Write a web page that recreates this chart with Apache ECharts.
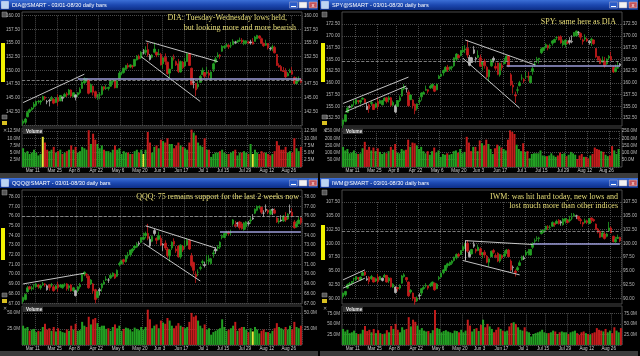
<!DOCTYPE html>
<html><head><meta charset="utf-8">
<script src="https://cdn.jsdelivr.net/npm/echarts@6/dist/echarts.min.js"></script>
<style>html,body{margin:0;padding:0;background:#000}#c{width:640px;height:356px}</style>
</head><body><div id="c"></div>
<script>
// ---- categories ----
const holidays = ['2013-03-29','2013-05-27','2013-07-04'];
const monthNames = ['Jan','Feb','Mar','Apr','May','Jun','Jul','Aug','Sep'];
const days = [];
for (let d = new Date(Date.UTC(2013,2,1)); d <= new Date(Date.UTC(2013,7,30)); d.setUTCDate(d.getUTCDate()+1)) {
  const wd = d.getUTCDay(); if (wd === 0 || wd === 6) continue;
  if (holidays.includes(d.toISOString().slice(0,10))) continue;
  days.push(monthNames[d.getUTCMonth()] + ' ' + d.getUTCDate());
}
const tickLabels = ['Mar 11','Mar 25','Apr 8','Apr 22','May 6','May 20','Jun 3','Jun 17','Jul 1','Jul 15','Jul 29','Aug 12','Aug 26'];

// ---- data: [open, close, low, high] ----
const diaOHLC = [[140.3,140.7,139.9,141.0],[140.5,141.1,140.1,141.3],[141.5,142.3,141.4,142.6],[142.4,142.8,142.2,143.0],[142.8,143.1,142.6,143.3],[143.3,143.8,142.9,144.2],[143.6,144.3,143.4,144.4],[144.3,144.3,143.9,144.6],[144.2,144.4,143.7,144.6],[144.6,145.2,144.4,145.4],
[145.1,144.9,144.5,145.3],[144.2,144.3,143.8,144.6],[144.5,144.4,143.4,144.8],[144.6,144.9,144.4,145.3],[144.7,144.0,143.8,144.9],[144.1,144.9,144.0,145.1],[145.0,144.3,143.5,145.6],[144.4,145.4,144.4,145.5],[144.9,145.1,144.3,145.2],[145.2,145.6,145.1,145.9],
[145.7,145.5,145.1,146.0],[145.6,146.4,145.4,146.6],[146.4,145.3,145.1,146.5],[145.2,145.9,145.1,146.0],[145.1,145.5,144.5,145.6],[145.5,145.9,145.1,146.0],[145.9,146.5,145.6,146.9],[146.7,147.8,146.6,148.0],[147.7,148.5,147.5,148.7],[148.3,148.5,147.8,148.6],
[148.3,145.8,145.6,148.4],[146.0,147.4,146.0,147.6],[147.1,146.0,145.4,147.2],[146.1,145.2,144.8,146.3],[145.3,145.3,144.6,145.7],[145.5,145.5,144.7,146.0],[145.6,147.0,145.4,147.2],[147.0,146.6,146.3,147.1],[146.7,146.8,146.4,147.4],[146.7,146.9,146.3,147.0],
[147.1,148.0,147.0,148.3],[147.9,148.2,147.5,148.3],[148.1,146.8,146.7,148.1],[146.8,148.1,146.8,148.2],[148.5,149.5,148.4,149.9],[149.5,149.5,149.1,149.8],[149.6,150.4,149.4,150.5],[150.2,150.9,150.0,151.0],[150.9,150.6,150.3,151.3],[150.6,151.0,150.4,151.1],
[150.8,150.7,150.3,151.0],[150.8,152.0,150.7,152.1],[151.9,152.6,151.8,152.8],[152.6,152.1,152.0,152.9],[152.3,153.3,152.1,153.5],[153.2,153.2,152.9,153.9],[153.3,153.7,152.8,154.4],[153.8,152.9,152.5,155.1],[152.0,152.7,151.8,153.0],[152.4,152.8,152.2,153.0],
[153.3,153.9,153.1,155.1],[153.3,152.8,152.4,153.4],[152.9,153.0,152.7,153.9],[152.9,151.0,150.9,153.2],[151.2,152.3,150.3,152.4],[152.4,151.6,151.0,153.1],[151.5,149.4,149.2,151.6],[149.5,150.2,148.5,150.3],[150.3,152.3,150.2,152.5],[152.3,152.2,151.8,152.9],
[151.6,151.0,150.8,151.8],[151.2,149.8,149.5,152.1],[149.7,151.6,149.6,151.8],[151.5,150.5,150.2,151.7],[150.8,151.6,150.6,152.3],[151.6,153.0,151.6,153.2],[153.1,150.9,150.8,153.2],[150.4,147.4,147.3,150.5],[147.9,147.8,146.7,148.5],[147.6,146.4,145.3,147.7],
[147.0,147.4,146.6,148.0],[147.8,148.9,147.8,149.2],[149.2,150.0,149.2,150.5],[149.6,148.9,148.6,149.7],[149.5,149.6,149.3,150.6],[149.5,149.1,148.6,150.0],[148.4,149.7,148.1,149.8],[150.2,151.2,149.7,151.4],[151.5,152.1,151.3,152.5],[152.5,152.8,152.3,153.3],
[152.8,152.7,152.1,153.0],[153.5,154.4,153.4,154.6],[154.2,154.4,153.9,154.6],[154.6,154.6,154.2,155.0],[154.6,154.3,153.9,154.8],[154.5,154.5,154.1,155.2],[154.7,155.3,154.7,155.7],[155.1,155.2,154.8,155.4],[155.2,155.3,155.0,155.6],[155.4,155.5,155.2,156.0],
[155.5,155.2,154.9,155.9],[154.9,155.4,154.6,155.6],[155.0,155.4,154.7,155.5],[155.2,155.0,154.8,155.4],[155.2,155.0,154.7,155.6],[155.2,154.8,154.7,155.9],[155.3,156.1,155.3,156.3],[155.8,156.4,155.7,156.5],[156.3,155.9,155.7,156.4],[155.8,155.0,154.8,156.0],
[154.9,154.5,154.3,155.1],[154.6,154.8,154.5,155.6],[154.9,154.1,153.8,155.0],[153.9,154.0,153.6,154.3],[154.1,154.3,153.5,154.7],[154.2,153.2,153.1,154.5],[152.9,150.9,150.8,153.0],[150.9,150.6,150.5,151.3],[150.7,149.9,149.9,151.0],[149.9,149.8,149.7,150.6],
[149.8,148.8,148.6,150.4],[149.0,149.4,148.9,149.7],[149.6,149.9,149.5,150.3],[149.8,149.3,149.2,150.6],[148.7,147.6,147.5,148.9],[147.6,148.0,147.4,148.8],[148.1,148.2,147.9,148.9],[148.3,147.81,147.6,148.6]];

const spyOHLC = [[151.1,152.1,150.4,152.2],[151.8,153.2,151.6,153.3],[153.7,154.6,153.6,155.0],[154.9,154.8,154.6,155.2],[154.9,155.3,154.6,155.4],[155.9,155.9,155.1,156.3],[155.5,156.4,155.4,156.5],[156.2,156.0,155.5,156.2],[155.9,156.2,155.4,156.4],[156.5,156.7,156.4,156.9],
[156.5,155.8,155.6,156.7],[154.3,155.0,154.2,155.7],[155.3,154.5,153.6,155.6],[155.6,155.8,155.1,156.2],[155.4,154.3,154.2,155.5],[154.8,155.6,154.6,155.8],[156.0,155.0,154.3,156.9],[155.6,156.2,155.6,156.5],[155.3,156.2,155.2,156.3],[156.2,156.7,156.1,156.9],
[156.8,156.0,155.6,157.0],[156.4,156.8,155.8,157.2],[156.8,155.2,154.9,157.0],[155.2,155.8,155.1,156.2],[153.8,155.1,153.5,155.4],[155.0,156.2,154.9,156.3],[156.2,156.8,155.9,157.3],[157.2,158.7,157.0,158.9],[158.7,159.2,158.4,159.7],[158.7,158.8,157.9,159.0],
[158.0,155.1,154.9,158.5],[156.4,157.4,156.3,157.5],[156.3,155.1,154.5,156.5],[155.4,154.1,153.3,155.6],[154.5,155.5,154.1,155.6],[156.0,156.2,155.3,156.9],[157.0,157.8,156.2,158.0],[157.6,157.9,157.5,158.2],[158.4,158.6,158.3,159.4],[158.5,158.2,157.7,158.6],
[158.9,159.3,158.7,159.6],[159.1,159.7,158.7,159.7],[159.3,158.2,158.0,159.4],[158.5,159.7,158.4,159.8],[160.9,161.4,160.8,161.7],[161.4,161.8,161.2,162.0],[162.1,162.6,161.5,162.8],[162.5,163.3,162.3,163.5],[163.3,162.8,162.3,163.8],[162.9,163.4,162.5,163.4],
[163.2,163.4,162.6,163.6],[163.6,165.3,163.4,165.4],[165.0,166.1,164.6,166.3],[165.8,165.3,165.2,166.1],[165.8,166.9,165.6,166.9],[166.6,166.9,166.4,167.8],[167.0,167.2,166.3,168.0],[167.3,165.9,165.3,169.1],[163.7,165.4,163.5,165.9],[164.3,165.3,164.3,165.5],
[167.0,166.3,166.1,167.8],[165.1,165.2,164.3,165.5],[165.4,165.8,165.2,166.9],[165.3,163.5,163.4,166.0],[163.9,164.4,162.6,164.5],[164.6,163.6,163.0,165.1],[163.3,161.3,161.0,163.6],[161.3,162.7,160.3,162.8],[163.6,164.8,163.4,165.0],[165.2,164.8,164.3,165.6],
[163.5,163.1,162.6,164.3],[164.2,161.8,161.6,164.3],[161.7,164.1,161.3,164.3],[163.7,163.2,162.6,164.3],[164.1,164.4,163.9,165.3],[164.6,165.7,164.6,165.8],[165.7,163.5,163.3,165.8],[161.7,159.6,159.3,162.1],[159.5,159.1,157.7,160.4],[157.4,157.2,155.7,158.1],
[158.4,158.5,157.7,159.2],[159.4,160.0,159.2,160.4],[161.0,161.0,160.5,161.8],[160.7,160.4,159.9,161.0],[161.3,161.3,160.8,162.4],[161.3,161.2,160.3,162.3],[160.0,161.4,159.9,161.5],[162.4,163.0,161.7,163.5],[163.8,164.0,163.4,164.5],[164.8,165.0,164.2,165.5],
[165.0,165.2,164.1,165.3],[166.4,167.2,166.1,167.5],[166.9,167.5,166.7,167.5],[167.6,168.1,167.3,168.4],[167.9,167.4,166.9,168.1],[167.8,167.9,167.2,168.3],[168.4,168.9,167.9,169.1],[168.6,169.2,168.5,169.4],[169.6,169.6,169.1,169.9],[169.8,169.1,169.0,170.0],
[169.8,168.5,168.3,170.1],[168.1,168.9,167.7,169.2],[168.1,169.1,167.5,169.2],[168.6,168.4,168.2,169.0],[169.0,168.6,168.1,169.7],[168.8,168.7,168.4,170.1],[169.9,170.7,169.9,170.8],[170.0,171.0,169.8,171.1],[170.7,170.7,170.1,171.0],[170.5,169.7,169.1,170.7],
[169.1,168.8,168.1,169.4],[169.3,169.6,168.9,170.3],[169.3,168.9,168.7,169.6],[168.5,168.8,168.1,169.1],[169.0,169.3,167.8,169.6],[169.1,168.3,168.1,169.2],[167.3,165.5,165.3,167.4],[165.6,164.8,164.7,165.7],[165.1,164.1,164.0,165.7],[164.4,164.8,164.3,165.6],
[164.6,163.6,163.2,165.5],[164.0,165.0,163.8,165.2],[165.3,165.6,164.9,165.9],[165.6,164.8,164.8,166.6],[163.3,162.3,162.1,163.6],[162.4,163.0,162.2,163.9],[163.1,163.3,163.0,164.6],[164.0,163.65,163.4,164.2]];

const qqqOHLC = [[67.2,67.6,67.0,67.7],[67.4,67.9,67.3,68.0],[68.2,68.6,68.1,68.8],[68.7,68.5,68.4,68.8],[68.5,68.6,68.3,68.8],[68.8,68.8,68.4,69.0],[68.7,69.0,68.6,69.1],[68.9,68.7,68.5,69.0],[68.6,68.8,68.4,68.9],[68.9,69.0,68.8,69.2],
[69.0,68.9,68.7,69.1],[68.4,68.8,68.3,68.9],[68.9,68.6,68.3,69.0],[68.9,68.9,68.7,69.1],[68.7,68.3,68.2,68.9],[68.5,68.8,68.4,68.9],[68.9,68.6,68.2,69.2],[68.7,68.9,68.6,69.0],[68.6,68.9,68.5,69.0],[68.9,68.9,68.7,69.1],
[69.0,68.5,68.3,69.1],[68.6,68.8,68.3,68.9],[68.9,68.3,68.2,69.0],[68.3,68.6,68.2,68.7],[67.8,68.3,67.7,68.4],[68.3,68.7,68.1,68.8],[68.7,68.9,68.5,69.1],[69.3,70.0,69.2,70.1],[70.0,70.2,69.8,70.3],[70.0,69.9,69.6,70.1],
[69.8,68.6,68.5,69.9],[69.0,69.4,68.9,69.5],[69.0,68.3,68.0,69.1],[68.4,67.4,67.0,68.5],[67.6,68.2,67.5,68.3],[68.4,68.3,67.8,68.6],[68.6,69.0,68.2,69.1],[69.0,69.2,68.9,69.4],[69.4,69.5,69.3,69.8],[69.4,69.4,69.1,69.6],
[69.6,69.9,69.5,70.1],[69.8,70.1,69.7,70.2],[70.0,69.6,69.5,70.1],[69.8,70.4,69.7,70.5],[71.0,71.1,70.8,71.3],[71.1,71.4,71.0,71.5],[71.5,71.3,71.0,71.6],[71.3,71.9,71.2,72.0],[71.9,72.0,71.6,72.3],[72.0,72.5,71.8,72.5],
[72.4,72.6,72.2,72.7],[72.7,72.9,72.5,73.0],[72.8,73.1,72.7,73.3],[73.2,73.1,72.9,73.4],[73.3,73.8,73.2,73.8],[73.6,73.8,73.5,74.3],[74.0,74.2,73.7,74.4],[74.2,73.7,73.5,75.2],[72.9,73.6,72.8,73.9],[73.4,73.9,73.3,74.0],
[74.5,74.2,74.0,74.7],[73.7,73.5,73.1,73.8],[73.6,74.0,73.5,74.4],[73.7,73.0,72.9,74.0],[73.1,73.0,72.4,73.2],[73.2,72.7,72.5,73.5],[72.6,71.9,71.7,72.8],[71.9,72.5,71.3,72.6],[72.7,73.3,72.5,73.4],[73.4,73.1,72.9,73.7],
[72.6,72.4,72.2,72.9],[72.9,71.8,71.7,73.0],[71.8,73.0,71.6,73.1],[72.9,72.5,72.3,73.0],[72.9,72.9,72.6,73.5],[73.0,73.5,73.0,73.7],[73.5,72.6,72.5,73.6],[71.9,70.9,70.7,72.2],[71.2,70.4,70.0,71.3],[70.0,69.7,69.1,70.3],
[70.2,70.2,69.8,70.5],[70.6,70.7,70.4,70.9],[71.2,71.3,70.9,71.5],[70.9,71.0,70.7,71.3],[71.4,71.4,71.1,72.0],[71.3,71.6,71.0,72.0],[71.1,71.6,71.0,71.7],[72.1,72.2,71.7,72.5],[72.6,72.4,72.1,72.8],[72.7,72.8,72.4,73.0],
[72.8,73.3,72.6,73.4],[73.8,73.9,73.6,74.1],[73.8,74.2,73.7,74.3],[74.2,74.3,74.0,74.5],[74.3,74.2,74.0,74.5],[74.3,74.3,74.0,74.6],[75.2,75.6,75.0,75.7],[75.1,75.0,74.8,75.5],[75.3,75.2,74.9,75.4],[75.4,74.8,74.6,75.5],
[75.2,74.7,74.6,75.4],[74.6,75.3,74.5,75.4],[74.9,75.4,74.6,75.5],[75.2,75.3,75.0,75.5],[75.5,75.6,75.2,75.9],[75.8,75.7,75.6,76.2],[76.3,76.7,76.2,76.8],[76.6,77.0,76.5,77.1],[76.9,77.0,76.7,77.1],[76.9,76.4,76.2,77.0],
[76.3,76.3,75.9,76.6],[76.7,76.6,76.4,77.2],[76.6,76.4,76.2,76.7],[76.2,76.6,76.1,76.7],[76.7,76.6,76.1,76.8],[76.6,76.3,76.2,76.8],[75.8,75.4,75.3,75.9],[75.4,75.5,75.2,75.8],[75.6,75.5,75.4,76.1],[75.5,76.0,75.4,76.1],
[75.9,75.6,75.4,76.4],[75.7,76.2,75.6,76.3],[76.5,76.4,76.2,77.2],[76.4,76.0,75.9,76.8],[75.4,74.8,74.7,75.6],[74.9,75.2,74.8,75.5],[75.2,75.6,75.2,75.9],[75.8,75.3,75.1,75.9]];

const iwmOHLC = [[90.4,91.0,90.0,91.1],[90.7,91.3,90.4,91.4],[91.9,92.5,91.8,92.7],[92.6,92.7,92.3,93.0],[92.8,93.1,92.5,93.2],[93.6,93.6,92.9,93.8],[93.4,94.0,93.2,94.1],[93.8,93.6,93.3,93.9],[93.4,93.9,93.2,94.0],[94.2,94.7,94.1,94.9],
[94.8,94.3,94.1,95.0],[93.4,93.6,93.2,94.1],[93.9,93.1,92.6,94.1],[93.6,94.0,93.4,94.3],[93.8,93.0,92.9,93.9],[93.2,93.6,93.0,93.8],[93.9,93.1,92.7,94.5],[93.4,94.0,93.4,94.1],[93.3,93.7,93.1,93.8],[93.9,94.2,93.8,94.5],
[94.2,93.0,92.9,94.3],[93.2,93.7,92.8,93.9],[93.7,92.2,92.0,93.8],[92.1,92.6,91.9,92.8],[91.1,92.1,90.9,92.2],[92.0,91.8,91.3,92.1],[91.9,92.4,91.6,92.6],[92.8,94.1,92.7,94.3],[94.0,94.3,93.8,94.6],[93.8,93.4,93.0,93.9],
[93.0,90.5,90.3,93.1],[91.2,91.5,90.9,91.7],[91.0,90.0,89.6,91.1],[90.2,89.4,88.9,90.3],[89.6,90.1,89.4,90.4],[90.6,90.5,89.8,91.0],[91.0,91.8,90.5,91.9],[91.8,92.0,91.6,92.4],[92.3,92.4,92.0,92.8],[92.3,91.9,91.6,92.4],
[92.3,92.6,92.1,92.9],[92.5,93.0,92.2,93.1],[92.8,91.6,91.4,92.9],[91.8,92.6,91.7,92.8],[93.6,93.8,93.3,94.1],[93.9,94.6,93.8,94.7],[94.7,95.2,94.4,95.3],[95.1,96.0,95.0,96.1],[96.0,96.3,95.6,96.5],[96.1,96.6,95.9,96.7],
[96.4,96.8,96.1,97.0],[96.9,97.5,96.7,97.6],[97.4,98.0,97.1,98.2],[98.0,97.7,97.5,98.3],[98.0,98.7,97.9,98.8],[98.7,99.4,98.6,99.7],[99.5,99.8,99.0,100.1],[100.0,98.6,98.3,100.6],[97.6,98.4,97.4,98.7],[98.1,98.9,98.0,99.0],
[99.8,99.5,99.2,100.3],[98.9,98.6,98.2,99.1],[98.7,99.3,98.6,99.8],[99.0,97.9,97.8,99.3],[98.0,98.3,97.3,98.4],[98.4,97.9,97.4,98.8],[97.7,96.6,96.4,97.9],[96.6,97.2,95.8,97.3],[97.6,98.6,97.5,98.7],[98.7,98.4,98.1,99.0],
[97.8,97.6,97.3,98.2],[98.2,96.8,96.6,98.4],[96.8,98.0,96.5,98.1],[97.8,97.4,97.1,98.0],[97.7,98.1,97.5,98.7],[98.2,98.8,98.1,99.0],[98.8,97.6,97.5,99.0],[96.8,95.2,95.0,97.1],[95.7,95.6,94.8,96.0],[95.0,94.7,94.0,95.3],
[95.2,95.6,95.0,95.9],[96.0,96.5,96.0,96.9],[97.0,97.6,96.9,97.8],[97.2,97.4,97.0,97.8],[97.9,98.4,97.7,98.8],[98.3,98.5,97.8,99.0],[97.9,98.9,97.8,99.0],[99.3,100.0,99.0,100.2],[100.4,100.5,100.0,100.9],[100.9,100.9,100.4,101.3],
[100.9,101.0,100.3,101.2],[101.8,102.3,101.6,102.5],[102.1,102.4,101.9,102.5],[102.5,103.1,102.3,103.2],[103.0,102.9,102.4,103.3],[102.9,102.9,102.5,103.3],[103.1,103.8,103.0,104.0],[103.6,103.4,103.0,103.8],[103.6,104.0,103.5,104.3],[104.2,103.6,103.4,104.4],
[103.9,103.7,103.2,104.2],[103.4,104.4,103.2,104.6],[104.0,104.5,103.6,104.6],[104.2,103.8,103.6,104.4],[104.1,104.3,103.8,105.0],[104.6,104.6,104.2,105.5],[105.0,105.2,104.8,105.5],[104.9,105.0,104.4,105.2],[104.9,104.4,104.1,105.0],[104.3,104.1,103.5,104.6],
[103.8,103.5,103.0,103.9],[103.8,104.1,103.6,104.5],[104.1,103.8,103.5,104.3],[103.6,104.5,103.5,104.6],[104.6,104.3,103.7,104.7],[104.3,104.1,103.9,104.5],[103.5,102.6,102.4,103.6],[102.6,102.0,101.8,102.8],[102.2,101.1,101.0,102.4],[101.2,101.9,101.1,102.3],
[101.7,100.9,100.7,102.1],[101.3,101.7,101.1,101.9],[102.3,102.8,102.1,103.9],[102.8,101.9,101.9,103.1],[101.3,100.3,100.2,101.4],[100.3,100.7,100.1,101.2],[100.9,101.1,100.8,101.6],[101.1,100.46,100.2,101.2]];

// ---- volumes (millions) ----
const diaVol = [6.5,5,5.5,4.5,5,6,5,4,4.5,10.5, 8.5,6,5.5,6,7,5,5.5,6,4.5,5, 5.5,6,7.5,6,7,5,5.5,7,6.5,6, 12.8,8,11.6,9.5,8,6.5,7.5,6,5.5,5.5, 5,6,7.5,6,6.5,4.5,5.5,5,5,4.5, 4.5,5.5,6,5,6,4.5,6,12.2,8.5,5, 7,7.5,6.5,9.5,9,8.5,10,8,8,6.5, 7.5,8.5,7.5,7,6.5,6,8.5,13,12,11, 8.5,7.5,7,10,6,6,3.5,4.5,5,5, 5.5,6,5,4.5,4.5,5,5.5,6,4,5, 5,5.5,5,4.5,8,4.5,6,5,4.5,5.5, 5,5,4.5,4,4.5,5.5,9,7.5,6,6, 7,5,5.5,5,10,6.5,5.5,7];
const spyVol = [140,115,125,95,100,115,95,90,95,130, 175,120,140,115,135,110,130,105,90,100, 95,110,140,120,160,100,95,125,115,120, 190,140,170,165,150,125,140,110,95,110, 85,110,135,100,115,70,90,85,95,85, 90,110,115,100,125,95,105,210,170,110, 140,140,110,185,165,150,190,160,125,90, 130,155,145,135,125,115,190,255,245,230, 155,125,110,165,105,110,60,90,95,95, 95,115,80,75,75,80,95,80,70,80, 100,90,95,75,85,105,95,85,55,80, 90,70,70,60,80,90,135,125,120,110, 105,85,75,80,145,115,90,125];
const qqqVol = [30,26,28,22,24,25,20,22,21,28, 33,24,26,22,28,21,26,22,20,19, 24,22,30,24,33,22,23,36,30,28, 44,32,40,42,34,28,30,30,25,26, 22,28,32,26,30,22,25,27,26,24, 21,27,25,23,28,24,28,55,40,26, 30,32,26,38,35,33,42,38,30,26, 30,34,30,28,26,28,36,50,44,46, 38,30,26,32,24,26,16,20,22,24, 26,40,28,22,24,26,30,36,22,26, 28,28,24,20,26,21,28,24,18,22, 24,20,20,18,22,26,34,28,26,24, 28,24,30,24,36,28,26,30];
const iwmVol = [38,32,36,28,30,34,28,26,27,36, 45,33,36,30,38,28,35,28,26,27, 35,30,45,38,50,36,30,42,36,38, 66,44,60,55,46,36,40,34,32,33, 28,35,83,40,38,30,33,35,32,30, 28,34,33,30,36,30,34,60,46,32, 38,40,33,48,60,42,50,44,38,30, 36,42,38,34,32,34,44,52,54,50, 42,36,34,42,32,30,20,26,28,30, 32,36,30,28,28,30,34,32,26,30, 32,30,30,26,30,32,34,28,24,30, 32,28,26,24,28,30,40,36,34,32, 38,30,34,28,42,34,30,40];

// ---- drawn lines: [[index, price],[index, price]] ----
const diaTrend = [[[0,144.1],[28,149.3]],[[3,139.9],[32,146.7]],[[56,155.4],[89,151.6]],[[54,152.5],[81,144.3]]];
const spyTrend = [[[0,155.6],[30,161.2]],[[1,153.8],[29,159.3]],[[5,150.8],[30,156.7]],[[56,169.1],[88,163.8]],[[55,165.2],[81,154.6]]];
const qqqTrend = [[[0,66.9],[28,69.95]],[[0,69.0],[28,70.1]],[[56,75.0],[88,72.7]],[[55,73.2],[81,69.3]]];
const iwmTrend = [[[0,93.4],[10,95.2]],[[0,91.9],[10,93.7]],[[56,100.5],[87,99.8]],[[55,96.9],[81,94.3]],[[56,96.9],[56,100.5]]];
const diaLevel = [[25,148.4],[127,148.4]];
const spyLevel = [[75,163.6],[127,163.6]];
const qqqLevel = [[90,74.43],[127,74.43]];
const iwmLevel = [[87,99.9],[127,99.9]];
const diaDashed = 148.2, spyDashed = 164.5, qqqDashed = 76.0, iwmDashed = 102.2;
const diaLast = 147.81, spyLast = 163.65, qqqLast = 75.37, iwmLast = 100.46;
const diaNotes = ['DIA: Tuesday-Wednesday lows held,','but looking more and more bearish'];
const spyNotes = ['SPY: same here as DIA'];
const qqqNotes = ['QQQ: 75 remains support for the last 2 weeks now'];
const iwmNotes = ['IWM: was hit hard today, new lows and','lost much more than other indices'];

// ---- layout ----
const panels = [
  {sym:'DIA', ox:0, oy:0, ohlc:diaOHLC, vol:diaVol, trend:diaTrend, level:diaLevel, dashed:diaDashed, last:diaLast, notes:diaNotes, noteX:[287,296], noteY:[17.5,27.5],
   pMin:140, pMax:160, pInt:2.5, pTop:15.7, pH:109.3, showMin:false, vMax:12.5, vInt:2.5, vTop:131.1, yellow:[9,55,105], barTop:43},
  {sym:'SPY', ox:320, oy:0, ohlc:spyOHLC, vol:spyVol, trend:spyTrend, level:spyLevel, dashed:spyDashed, last:spyLast, notes:spyNotes, noteX:[296], noteY:[22],
   pMin:152.5, pMax:172.5, pInt:2.5, pTop:24, pH:94, showMin:true, vMax:250, vInt:50, vTop:131.1, yellow:[], barTop:43},
  {sym:'QQQ', ox:0, oy:178, ohlc:qqqOHLC, vol:qqqVol, trend:qqqTrend, level:qqqLevel, dashed:qqqDashed, last:qqqLast, notes:qqqNotes, noteX:[299], noteY:[19],
   pMin:67, pMax:78, pInt:1, pTop:18.7, pH:106.6, showMin:true, vMax:50, vInt:25, vTop:134.9, yellow:[105], barTop:50},
  {sym:'IWM', ox:320, oy:178, ohlc:iwmOHLC, vol:iwmVol, trend:iwmTrend, level:iwmLevel, dashed:iwmDashed, last:iwmLast, notes:iwmNotes, noteX:[298,298], noteY:[18.7,28],
   pMin:90, pMax:107.5, pInt:2.5, pTop:24, pH:96.6, showMin:true, vMax:75, vInt:25, vTop:135.4, yellow:[], barTop:47}
];

const GREEN = '#23a023', RED = '#c41c1c', GRAY = '#b4b4b4', YEL = '#e8e83c';
const gridLine = {color:'#4a4a4a', type:'dotted', width:1};
const lblFont = {fontSize:4.6, color:'#b8b8b8', fontFamily:'Liberation Sans'};
const VBOT = 166.9;

const option = {animation:false, backgroundColor:'#000', grid:[], xAxis:[], yAxis:[], series:[], graphic:[]};

panels.forEach((p, k) => {
  const ox = p.ox, oy = p.oy;
  option.graphic.push(
    {type:'rect', shape:{x:ox, y:oy, width:320, height:178}, style:{fill:'#000'}, z:-10},
    {type:'rect', shape:{x:ox, y:oy, width:318, height:10}, style:{fill:{type:'linear',x:0,y:0,x2:0,y2:1,colorStops:[{offset:0,color:'#3b6fd6'},{offset:0.5,color:'#1c48b0'},{offset:1,color:'#0d2e86'}]}}, z:-5},
    {type:'rect', shape:{x:ox+1.5, y:oy+1.5, width:7, height:7}, style:{fill:'#bcd4f2', stroke:'#eef', lineWidth:0.5}, z:-4},
    {type:'text', x:ox+12, y:oy+5.2, style:{text:p.sym+'@SMART - 03/01-08/30 daily bars', fill:'#ffffff', fontSize:5.6, fontFamily:'Liberation Sans', verticalAlign:'middle'}, z:-4},
    {type:'rect', shape:{x:ox+289.5, y:oy+2, width:8, height:6}, style:{fill:'#2a5cc8', stroke:'#aac', lineWidth:0.5}, z:-4},
    {type:'rect', shape:{x:ox+291, y:oy+6, width:5, height:1}, style:{fill:'#fff'}, z:-3},
    {type:'rect', shape:{x:ox+299, y:oy+2, width:8, height:6}, style:{fill:'#f2f2f2', stroke:'#88a', lineWidth:0.5}, z:-4},
    {type:'rect', shape:{x:ox+309, y:oy+2, width:8, height:6}, style:{fill:'#c4545a', stroke:'#dcc', lineWidth:0.5}, z:-4},
    {type:'text', x:ox+313, y:oy+5.2, style:{text:'x', fill:'#fff', fontSize:6, fontFamily:'Liberation Sans', align:'center', verticalAlign:'middle'}, z:-3},
    {type:'rect', shape:{x:ox+22, y:oy+12, width:280, height:114}, style:{fill:'#000', stroke:'#5a5a5a', lineWidth:0.8}, z:-4},
    {type:'rect', shape:{x:ox+22, y:oy+128, width:280, height:39}, style:{fill:'#000', stroke:'#5a5a5a', lineWidth:0.8}, z:-4},
    {type:'rect', shape:{x:ox+1, y:oy+p.barTop, width:4, height:82-p.barTop}, style:{fill:'#f2f200'}, z:-4},
    {type:'rect', shape:{x:ox+2, y:oy+12, width:5, height:5}, style:{fill:'#555', stroke:'#999', lineWidth:0.5}, z:-4},
    {type:'rect', shape:{x:ox+2, y:oy+115, width:5, height:4}, style:{fill:'#555', stroke:'#999', lineWidth:0.5}, z:-4},
    {type:'rect', shape:{x:ox+2, y:oy+121, width:5, height:4}, style:{fill:'#d8c020'}, z:-4},
    {type:'text', x:ox+4.5, y:oy+131, style:{text:'✕', fill:'#aaa', fontSize:5, align:'center', verticalAlign:'middle'}, z:-4},
    {type:'rect', shape:{x:ox+23, y:oy+128.6, width:20, height:5.4}, style:{fill:'#333'}, z:5},
    {type:'text', x:ox+26, y:oy+131.4, style:{text:'Volume', fill:'#f0f0f0', fontSize:4.6, fontWeight:'bold', fontFamily:'Liberation Sans', verticalAlign:'middle'}, z:6},
    {type:'rect', shape:{x:ox, y:oy+173, width:318, height:5}, style:{fill:'#3c3c3c'}, z:-4}
  );
  p.notes.forEach((t, j) => option.graphic.push({type:'text', x:ox+p.noteX[j], y:oy+p.noteY[j], style:{text:t, fill:'#e8de78', fontSize:8, fontFamily:'Liberation Serif', align:'right', verticalAlign:'middle'}, z:50}));

  const g = option.grid.length;
  option.grid.push({left:ox+22, width:280, top:oy+p.pTop, height:p.pH});
  option.grid.push({left:ox+22, width:280, top:oy+p.vTop, height:VBOT-p.vTop});
  const xi = option.xAxis.length;
  const splitX = {show:true, interval:(i,v)=>tickLabels.includes(v), lineStyle:gridLine};
  option.xAxis.push({type:'category', gridIndex:g, data:days, axisLine:{show:false}, axisTick:{show:false}, axisLabel:{show:false}, splitLine:splitX});
  option.xAxis.push({type:'category', gridIndex:g+1, data:days, axisLine:{show:false}, axisTick:{show:false},
    axisLabel:{show:true, interval:(i,v)=>tickLabels.includes(v), margin:1.5, padding:[0,7,0,0], color:'#cfcfcf', fontSize:4.6, fontFamily:'Liberation Sans'}, splitLine:splitX});
  const yi = option.yAxis.length;
  const pf = v => v.toFixed(2);
  const vf = v => v === 0 ? '' : v.toFixed(1) + 'M';
  const common = {type:'value', axisLine:{show:false}, axisTick:{show:false}};
  option.yAxis.push(Object.assign({}, common, {gridIndex:g, position:'left', min:p.pMin, max:p.pMax, interval:p.pInt, axisLabel:Object.assign({formatter:pf, margin:2, showMinLabel:p.showMin}, lblFont), splitLine:{show:true, lineStyle:gridLine}}));
  option.yAxis.push(Object.assign({}, common, {gridIndex:g, position:'right', min:p.pMin, max:p.pMax, interval:p.pInt, axisLabel:Object.assign({formatter:pf, margin:2, showMinLabel:p.showMin}, lblFont), splitLine:{show:false}}));
  option.yAxis.push(Object.assign({}, common, {gridIndex:g+1, position:'left', min:0, max:p.vMax, interval:p.vInt, axisLabel:Object.assign({formatter:vf, margin:2}, lblFont), splitLine:{show:true, lineStyle:gridLine}}));
  option.yAxis.push(Object.assign({}, common, {gridIndex:g+1, position:'right', min:0, max:p.vMax, interval:p.vInt, axisLabel:Object.assign({formatter:vf, margin:2}, lblFont), splitLine:{show:false}}));

  const candles = p.ohlc.map((c, i) => {
    const prev = i > 0 ? p.ohlc[i-1][1] : c[0];
    const upBody = c[1] >= c[0], upPrev = c[1] >= prev;
    const col = (upBody && upPrev) ? GREEN : (!upBody && !upPrev) ? RED : GRAY;
    return {value:c, itemStyle:{color:col, color0:col, borderColor:col, borderColor0:col, borderWidth:0.8}};
  });
  const tag = (pos) => ({yAxis:p.last, lineStyle:{opacity:0}, label:{show:true, position:pos, distance:1, formatter:p.last.toFixed(2), backgroundColor:'#f4f400', color:'#303030', fontSize:4.8, fontFamily:'Liberation Sans', padding:[1,1,0.5,1]}});
  const mlData = p.trend.map(t => [{coord:t[0]}, {coord:t[1]}]);
  mlData.push([{coord:p.level[0], lineStyle:{color:'#9c9cd8', width:1.6}}, {coord:p.level[1]}]);
  mlData.push({yAxis:p.dashed, lineStyle:{color:'#9a9a9a', type:'dashed', width:0.8}});
  mlData.push(tag('start'));
  mlData.push(tag('end'));
  option.series.push({type:'candlestick', xAxisIndex:xi, yAxisIndex:yi, data:candles, barWidth:2, clip:false,
    markLine:{symbol:['none','none'], silent:true, animation:false, label:{show:false}, lineStyle:{color:'#d8d8d8', width:0.9, type:'solid'}, data:mlData}});
  const vbars = p.vol.map((v, i) => {
    const c = p.ohlc[i], prev = i > 0 ? p.ohlc[i-1][1] : c[0];
    const col = p.yellow.includes(i) ? YEL : (c[1] >= prev ? GREEN : RED);
    return {value:v, itemStyle:{color:col}};
  });
  option.series.push({type:'bar', xAxisIndex:xi+1, yAxisIndex:yi+2, data:vbars, barWidth:2, clip:false});
});

const chart = echarts.init(document.getElementById('c'), null, {renderer:'canvas'});
chart.setOption(option);
</script></body></html>
